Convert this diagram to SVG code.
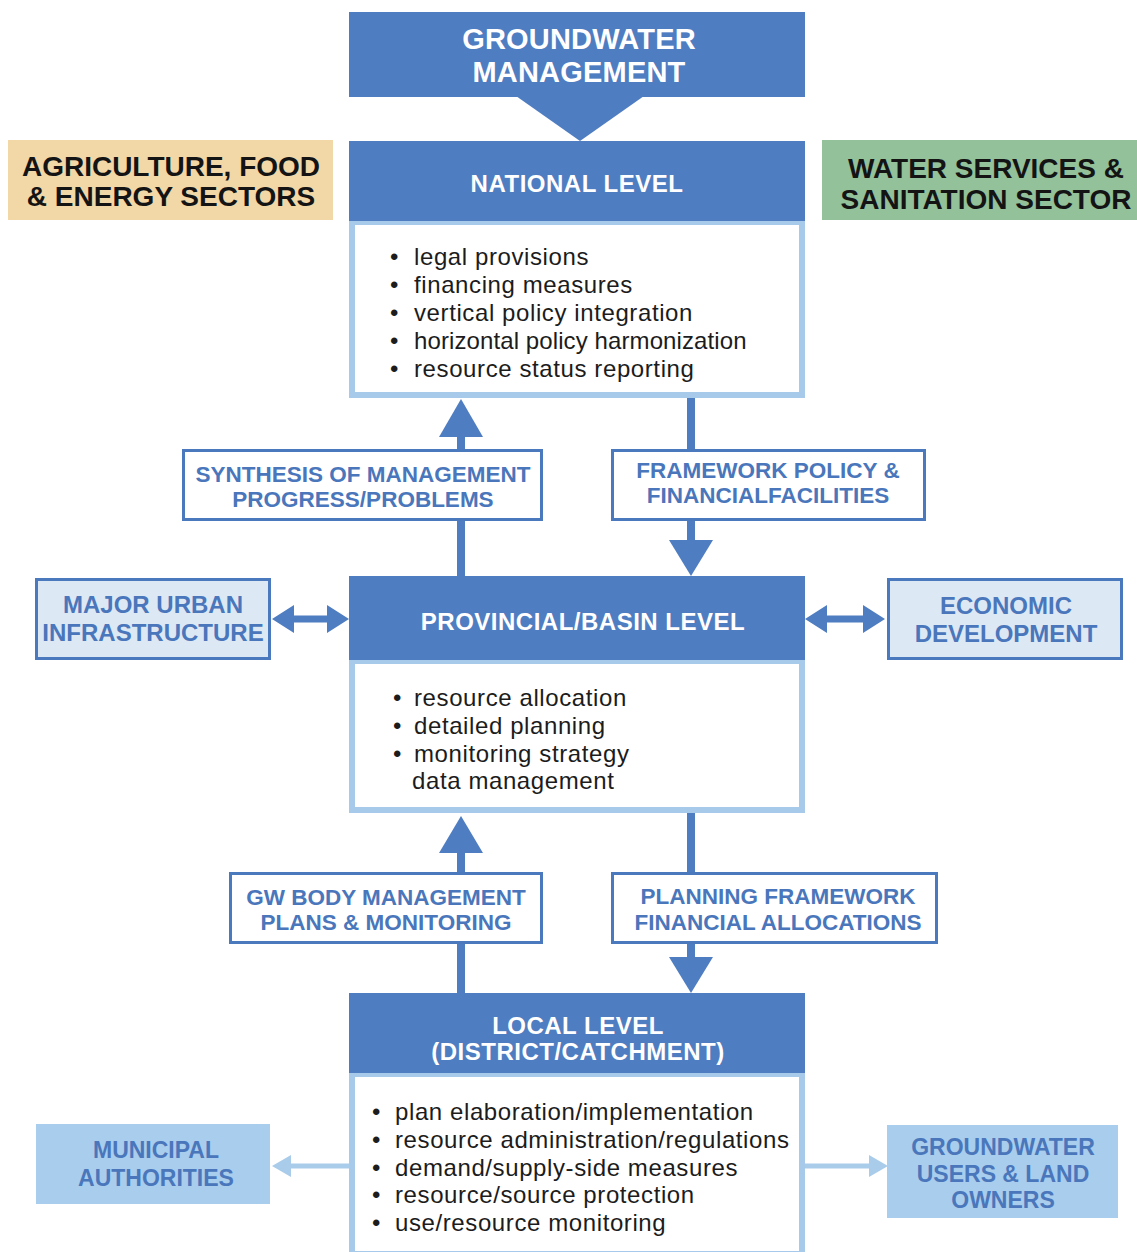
<svg xmlns="http://www.w3.org/2000/svg" width="1137" height="1252" viewBox="0 0 1137 1252">
<style>
.hdr{fill:#4F7DC1}
.hdrtxt{font-family:"Liberation Sans",Arial,sans-serif;font-weight:bold;fill:#ffffff;text-anchor:middle;font-size:24px;letter-spacing:0.5px}
.body{fill:#ffffff;stroke:#A7C9EA;stroke-width:6}
.btxt{font-family:"Liberation Sans",Arial,sans-serif;font-size:24px;fill:#1c1c1c;letter-spacing:0.6px}
.lbl{fill:#ffffff;stroke:#4A79BE;stroke-width:3}
.lbl2{fill:#DDE8F5;stroke:#4A79BE;stroke-width:3}
.lbl3{fill:#A9CDEC}
.lbltxt{font-family:"Liberation Sans",Arial,sans-serif;font-weight:bold;font-size:22.5px;fill:#4A76BB;text-anchor:middle}
.lbltxt24{font-family:"Liberation Sans",Arial,sans-serif;font-weight:bold;font-size:24px;fill:#4A76BB;text-anchor:middle}
.sect{font-family:"Liberation Sans",Arial,sans-serif;font-weight:bold;font-size:28px;fill:#141414;text-anchor:middle}
.stem{stroke:#4F7DC1;stroke-width:8;fill:none}
.head{fill:#4F7DC1}
.lstem{stroke:#A9CCEB;stroke-width:5;fill:none}
.lhead{fill:#A9CCEB}
</style>

<g id="connectors">
  <line class="stem" x1="461" y1="576" x2="461" y2="432"/>
  <polygon class="head" points="439,437 483,437 461,399"/>
  <line class="stem" x1="691" y1="397" x2="691" y2="545"/>
  <polygon class="head" points="669,540 713,540 691,576"/>
  <line class="stem" x1="461" y1="993" x2="461" y2="848"/>
  <polygon class="head" points="439,853 483,853 461,816"/>
  <line class="stem" x1="691" y1="812" x2="691" y2="960"/>
  <polygon class="head" points="669,957 713,957 691,993"/>
  <polygon class="head" points="272,619 294,605 294,615.5 327,615.5 327,605 349,619 327,633 327,622.5 294,622.5 294,633"/>
  <polygon class="head" points="805,619 827,605 827,615.5 863,615.5 863,605 885,619 863,633 863,622.5 827,622.5 827,633"/>
  <line class="lstem" x1="350" y1="1166" x2="287" y2="1166"/>
  <polygon class="lhead" points="272,1166 291,1155 291,1177"/>
  <line class="lstem" x1="805" y1="1166" x2="872" y2="1166"/>
  <polygon class="lhead" points="888,1166 869,1155 869,1177"/>
</g>

<g id="groundwater-management">
  <rect class="hdr" x="349" y="12" width="456" height="85"/>
  <polygon class="hdr" points="516,96 644,96 580,141"/>
  <text class="hdrtxt" style="font-size:29px;letter-spacing:0.2px" x="579" y="49">GROUNDWATER</text>
  <text class="hdrtxt" style="font-size:29px;letter-spacing:0.2px" x="579" y="82">MANAGEMENT</text>
</g>

<g id="agriculture-sector">
  <rect x="8" y="140" width="325" height="80" fill="#F2D7A7"/>
  <text class="sect" x="171" y="176">AGRICULTURE, FOOD</text>
  <text class="sect" x="171" y="206">&amp; ENERGY SECTORS</text>
</g>

<g id="water-sector">
  <rect x="822" y="140" width="315" height="80" fill="#92C19A"/>
  <text class="sect" x="986" y="178">WATER SERVICES &amp;</text>
  <text class="sect" x="986" y="209">SANITATION SECTOR</text>
</g>

<g id="national-level">
  <rect class="body" x="352" y="222" width="450" height="173"/>
  <rect class="hdr" x="349" y="141" width="456" height="80"/>
  <text class="hdrtxt" x="577" y="192">NATIONAL LEVEL</text>
  <text class="btxt" x="390" y="265">•</text><text class="btxt" x="414" y="265">legal provisions</text>
  <text class="btxt" x="390" y="293">•</text><text class="btxt" x="414" y="293">financing measures</text>
  <text class="btxt" x="390" y="321">•</text><text class="btxt" x="414" y="321">vertical policy integration</text>
  <text class="btxt" x="390" y="349">•</text><text class="btxt" x="414" y="349" style="letter-spacing:0.1px">horizontal policy harmonization</text>
  <text class="btxt" x="390" y="377">•</text><text class="btxt" x="414" y="377">resource status reporting</text>
</g>

<g id="synthesis">
  <rect class="lbl" x="183.5" y="450.5" width="358" height="69"/>
  <text class="lbltxt" x="363" y="482">SYNTHESIS OF MANAGEMENT</text>
  <text class="lbltxt" x="363" y="507">PROGRESS/PROBLEMS</text>
</g>

<g id="framework-policy">
  <rect class="lbl" x="612.5" y="450.5" width="312" height="69"/>
  <text class="lbltxt" x="768" y="478">FRAMEWORK POLICY &amp;</text>
  <text class="lbltxt" x="768" y="503">FINANCIALFACILITIES</text>
</g>

<g id="major-urban">
  <rect class="lbl2" x="36.5" y="579.5" width="233" height="79"/>
  <text class="lbltxt24" x="153" y="613">MAJOR URBAN</text>
  <text class="lbltxt24" x="153" y="641">INFRASTRUCTURE</text>
</g>

<g id="economic-development">
  <rect class="lbl2" x="888.5" y="579.5" width="233" height="79"/>
  <text class="lbltxt24" x="1006" y="614">ECONOMIC</text>
  <text class="lbltxt24" x="1006" y="642">DEVELOPMENT</text>
</g>

<g id="provincial-level">
  <rect class="body" x="352" y="661" width="450" height="149"/>
  <rect class="hdr" x="349" y="576" width="456" height="84"/>
  <text class="hdrtxt" x="583" y="630">PROVINCIAL/BASIN LEVEL</text>
  <text class="btxt" x="393" y="706">•</text><text class="btxt" x="414" y="706">resource allocation</text>
  <text class="btxt" x="393" y="734">•</text><text class="btxt" x="414" y="734">detailed planning</text>
  <text class="btxt" x="393" y="762">•</text><text class="btxt" x="414" y="762">monitoring strategy</text>
  <text class="btxt" x="412" y="789">data management</text>
</g>

<g id="gw-body">
  <rect class="lbl" x="230.5" y="873.5" width="311" height="69"/>
  <text class="lbltxt" x="386" y="905">GW BODY MANAGEMENT</text>
  <text class="lbltxt" x="386" y="930">PLANS &amp; MONITORING</text>
</g>

<g id="planning-framework">
  <rect class="lbl" x="612.5" y="873.5" width="324" height="69"/>
  <text class="lbltxt" x="778" y="904">PLANNING FRAMEWORK</text>
  <text class="lbltxt" x="778" y="930">FINANCIAL ALLOCATIONS</text>
</g>

<g id="local-level">
  <rect class="body" x="352" y="1074" width="450" height="180"/>
  <rect class="hdr" x="349" y="993" width="456" height="80"/>
  <text class="hdrtxt" x="578" y="1034">LOCAL LEVEL</text>
  <text class="hdrtxt" x="578" y="1060">(DISTRICT/CATCHMENT)</text>
  <text class="btxt" x="372" y="1120">•</text><text class="btxt" x="395" y="1120">plan elaboration/implementation</text>
  <text class="btxt" x="372" y="1148">•</text><text class="btxt" x="395" y="1148">resource administration/regulations</text>
  <text class="btxt" x="372" y="1176">•</text><text class="btxt" x="395" y="1176">demand/supply-side measures</text>
  <text class="btxt" x="372" y="1203">•</text><text class="btxt" x="395" y="1203">resource/source protection</text>
  <text class="btxt" x="372" y="1231">•</text><text class="btxt" x="395" y="1231">use/resource monitoring</text>
</g>

<g id="municipal-authorities">
  <rect class="lbl3" x="36" y="1124" width="234" height="80"/>
  <text class="lbltxt24" style="font-size:23px" x="156" y="1158">MUNICIPAL</text>
  <text class="lbltxt24" style="font-size:23px" x="156" y="1186">AUTHORITIES</text>
</g>

<g id="groundwater-users">
  <rect class="lbl3" x="887" y="1125" width="231" height="93"/>
  <text class="lbltxt24" style="font-size:23px" x="1003" y="1155">GROUNDWATER</text>
  <text class="lbltxt24" style="font-size:23px" x="1003" y="1182">USERS &amp; LAND</text>
  <text class="lbltxt24" style="font-size:23px" x="1003" y="1208">OWNERS</text>
</g>
</svg>
